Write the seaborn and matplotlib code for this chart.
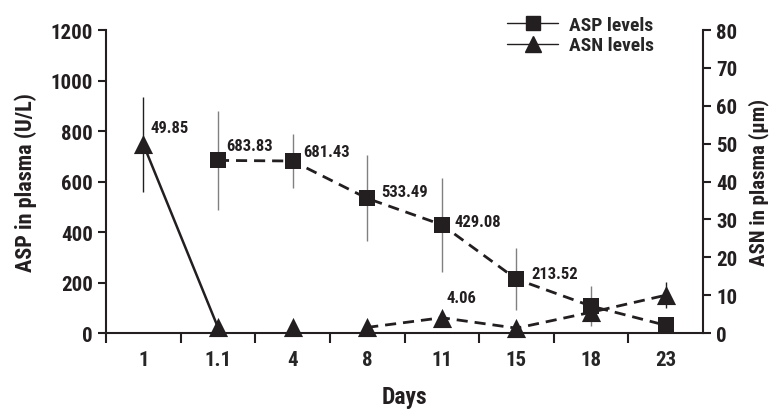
import numpy as np
import pandas as pd
import seaborn as sns
import matplotlib.pyplot as plt
from matplotlib.lines import Line2D
from matplotlib.ticker import FixedLocator

days = ["1", "1.1", "4", "8", "11", "15", "18", "23"]
asp_days = ["1.1", "4", "8", "11", "15", "18", "23"]
asp_levels = [683.83, 681.43, 533.49, 429.08, 213.52, 107, 31]
asp_err = [196, 107, 170, 187, 122, 80, 0]
asn_levels = [49.85, 1.5, 1.5, 1.5, 4.06, 1.3, 5.5, 10.0]
asn_err = [12.5, 0, 0, 0, 0, 0, 0, 3.5]
asp_labels = ["683.83", "681.43", "533.49", "429.08", "213.52", "", ""]
asn_labels = ["49.85", "", "", "", "4.06", "", "", ""]

# label offsets in pixels (style only)
asp_off = [(8, 15), (11, 10), (14, 7), (13, 3), (15, 6), (0, 0), (0, 0)]
asn_off = [(7, 17), (0, 0), (0, 0), (0, 0), (5, 20), (0, 0), (0, 0), (0, 0)]

sns.set_style("ticks")
plt.rcParams["font.family"] = ["Roboto Condensed", "Liberation Sans Narrow", "Roboto", "DejaVu Sans"]
plt.rcParams["font.weight"] = "black"

pos = {d: i for i, d in enumerate(days)}
asp = pd.DataFrame({"x": [pos[d] for d in asp_days], "y": asp_levels, "err": asp_err, "lab": asp_labels})
asn = pd.DataFrame({"x": [pos[d] for d in days], "y": asn_levels, "err": asn_err, "lab": asn_labels})

fig = plt.figure(figsize=(7.71, 4.14), dpi=100)
ax = fig.add_axes([0.1375, 0.193, 0.7743, 0.732])
ax2 = ax.twinx()
ink = "#231f20"

# ASP (left axis)
ax.errorbar(asp["x"], asp["y"], yerr=asp["err"], fmt="none", ecolor="#808080", elinewidth=1, zorder=1)
sns.lineplot(data=asp, x="x", y="y", ax=ax, color=ink, lw=2, linestyle=(0, (4, 2.5)),
             marker="s", markersize=11, markeredgewidth=0, zorder=3)

# ASN (right axis): solid first step, no link along the floor, dashed from day 8 on
ax2.errorbar(asn["x"], asn["y"], yerr=asn["err"], fmt="none", ecolor=ink, elinewidth=1, zorder=1)
sns.lineplot(data=asn.iloc[:2], x="x", y="y", ax=ax2, color=ink, lw=1.8, zorder=3)
sns.lineplot(data=asn.iloc[3:], x="x", y="y", ax=ax2, color=ink, lw=2, linestyle=(0, (4, 2.5)), zorder=3)
sns.scatterplot(data=asn, x="x", y="y", ax=ax2, color=ink, marker="^", s=190, linewidth=0,
                zorder=4, clip_on=False)

for (_, r), off in zip(asp.iterrows(), asp_off):
    if r["lab"]:
        ax.annotate(r["lab"], (r["x"], r["y"]), xytext=off, textcoords="offset pixels",
                    fontsize=12, fontweight="bold", color=ink, va="center", ha="left")
for (_, r), off in zip(asn.iterrows(), asn_off):
    if r["lab"]:
        ax2.annotate(r["lab"], (r["x"], r["y"]), xytext=off, textcoords="offset pixels",
                     fontsize=12, fontweight="bold", color=ink, va="center", ha="left")

ax.set_xlim(-0.5, len(days) - 0.5)
ax.set_ylim(0, 1200)
ax2.set_ylim(0, 80)
ax.set_yticks(np.arange(0, 1201, 200))
ax2.set_yticks(np.arange(0, 81, 10))
ax.set_xticks(range(len(days)))
ax.set_xticklabels(days)
ax.xaxis.set_minor_locator(FixedLocator(np.arange(-0.5, len(days) - 1, 1.0)))
ax.tick_params(axis="x", which="major", length=0, pad=12, labelsize=15)
ax.tick_params(axis="x", which="minor", length=7, width=1.5, direction="out", color=ink)
ax.tick_params(axis="y", length=6, width=1.5, labelsize=15, colors=ink)
ax2.tick_params(axis="y", length=6, width=1.5, labelsize=15, colors=ink)

ax.set_xlabel("Days", fontsize=17, fontweight="bold", labelpad=12, color=ink)
ax.set_ylabel("ASP in plasma (U/L)", fontsize=16, fontweight="bold", labelpad=10, color=ink)
ax2.set_ylabel("ASN in plasma (\u03bcm)", fontsize=15, fontweight="bold", labelpad=8, color=ink)

for a in (ax, ax2):
    a.spines["top"].set_visible(False)
    for s in ("left", "right", "bottom"):
        a.spines[s].set_linewidth(1.5)
        a.spines[s].set_color(ink)
ax.spines["right"].set_visible(False)
ax2.spines["left"].set_visible(False)
ax2.spines["bottom"].set_visible(False)

handles = [Line2D([], [], color=ink, lw=1, marker="s", markersize=10),
           Line2D([], [], color=ink, lw=1, marker="^", markersize=11)]
ax.legend(handles, ["ASP levels", "ASN levels"], loc="upper right", bbox_to_anchor=(0.935, 1.08),
          frameon=False, handlelength=2.6, borderpad=0, labelspacing=0.15,
          handletextpad=0.6, prop={"weight": "bold", "size": 14})

fig.savefig("out.png", dpi=100)
